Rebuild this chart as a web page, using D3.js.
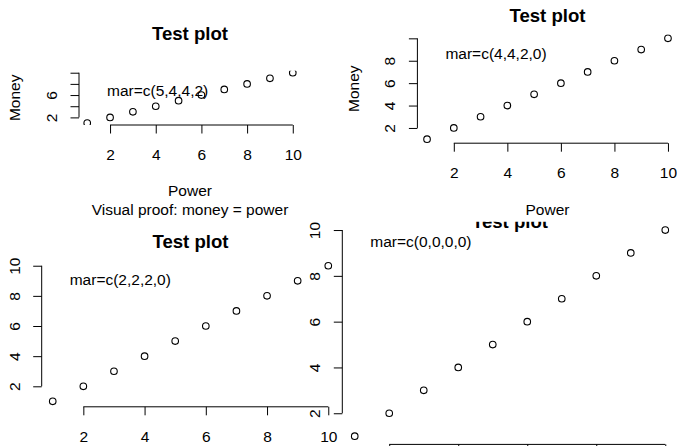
<!DOCTYPE html>
<html>
<head>
<meta charset="utf-8">
<script src="https://cdn.jsdelivr.net/npm/d3@7"></script>
<style>
  html, body { margin: 0; padding: 0; background: #fff; }
  svg { display: block; }
  text { font-family: "Liberation Sans", Arial, Helvetica, sans-serif; fill: #000; }
</style>
</head>
<body>
<svg id="chart" width="677" height="446"></svg>
<script>
// ---- data ----
const power = [1, 2, 3, 4, 5, 6, 7, 8, 9, 10];
const money = [1, 2, 3, 4, 5, 6, 7, 8, 9, 10];
const xTicks = [2, 4, 6, 8, 10];
const yTicks = [2, 4, 6, 8, 10];
const marLabels = ["mar=c(5,4,4,2)", "mar=c(4,4,2,0)", "mar=c(2,2,2,0)", "mar=c(0,0,0,0)"];
const mainTitle = "Test plot";
const xLabel = "Power";
const yLabel = "Money";
const subTitle = "Visual proof: money = power";

// ---- layout: plot box and figure box of each panel (px) ----
const W = 677, H = 446;
const panels = [
  { plot: { x0: 79,    x1: 301,   y0: 70.7,  y1: 125   }, fig: { x0: 0,     x1: 338.5, y0: 0,     y1: 223   }, titleY: 33.3,  sub: true  },
  { plot: { x0: 417.4, x1: 677.6, y0: 34.3,  y1: 143.2 }, fig: { x0: 338.5, x1: 677,   y0: 0,     y1: 223   }, titleY: 15,    sub: false },
  { plot: { x0: 41.7,  x1: 339.3, y0: 260.3, y1: 406.8 }, fig: { x0: 0,     x1: 340,   y0: 223,   y1: 446   }, titleY: 241.3, sub: false },
  { plot: { x0: 342.3, x1: 677.7, y0: 221.8, y1: 444.4 }, fig: { x0: 342.3, x1: 677.7, y0: 221.8, y1: 444.4 }, titleY: 221.8, sub: false }
];

const FS = 15.5;          // base text size
const FS_MAIN = 18.6;     // bold title size
const TICK = 8.5;         // tick length
const YLAB_OFF = 27.5;    // y tick label centre, left of axis
const XLAB_OFF = 29.5;    // x tick label centre, below axis
const TITLE_X_OFF = 66;   // x axis title
const SUB_OFF = 85;       // subtitle
const TITLE_Y_OFF = 64;   // y axis title
const R_PT = 3.3;         // open circle radius

const svg = d3.select("#chart");
const defs = svg.append("defs");

// R-style extended range (4% each side)
function extRange(vals) {
  const [lo, hi] = d3.extent(vals);
  const d = (hi - lo) * 0.04;
  return [lo - d, hi + d];
}

// width of "m" sets the minimum gap between axis labels
const probe = svg.append("text").attr("font-size", FS).text("m");
const gapM = probe.node().getComputedTextLength();
probe.remove();

// hide labels that would crowd the previous drawn one, or fall off the page
function thinLabels(axisG, scale, offPage) {
  let last = null;
  axisG.selectAll(".tick").each(function (d) {
    const t = d3.select(this).select("text");
    if (offPage(scale(d))) { t.remove(); return; }
    const w = t.node().getComputedTextLength();
    const p = scale(d);
    if (last && Math.abs(p - last.p) - (w / 2 + last.w / 2) < gapM) {
      t.remove();
    } else {
      last = { p, w };
    }
  });
}

const inside = (v, a, b) => v >= a && v <= b;

panels.forEach((pn, i) => {
  const P = pn.plot, F = pn.fig;
  const x = d3.scaleLinear().domain(extRange(power)).range([P.x0, P.x1]);
  const y = d3.scaleLinear().domain(extRange(money)).range([P.y1, P.y0]);

  defs.append("clipPath").attr("id", "plotclip" + i)
    .append("rect").attr("x", P.x0).attr("y", P.y0)
    .attr("width", P.x1 - P.x0).attr("height", P.y1 - P.y0);
  defs.append("clipPath").attr("id", "figclip" + i)
    .append("rect").attr("x", F.x0).attr("y", F.y0)
    .attr("width", F.x1 - F.x0).attr("height", F.y1 - F.y0);

  const g = svg.append("g").attr("class", "panel");

  // x axis
  const gx = g.append("g")
    .attr("transform", `translate(0,${P.y1})`)
    .call(d3.axisBottom(x).tickValues(xTicks).tickSizeInner(TICK).tickSizeOuter(0).tickFormat(d3.format("d")));
  gx.select(".domain").remove();
  gx.append("line")
    .attr("x1", x(xTicks[0])).attr("x2", x(xTicks[xTicks.length - 1]))
    .attr("stroke", "#000").attr("stroke-width", 1);
  gx.selectAll(".tick line").attr("stroke", "#000").attr("stroke-width", 1);
  gx.selectAll(".tick text")
    .attr("y", XLAB_OFF).attr("dy", "0.35em")
    .attr("font-size", FS).attr("fill", "#000");
  gx.attr("font-size", null).attr("font-family", null);
  thinLabels(gx, x, () => P.y1 + XLAB_OFF > H);

  // y axis, labels parallel to the axis
  const gy = g.append("g")
    .attr("transform", `translate(${P.x0},0)`)
    .call(d3.axisLeft(y).tickValues(yTicks).tickSizeInner(TICK).tickSizeOuter(0).tickFormat(d3.format("d")));
  gy.select(".domain").remove();
  gy.append("line")
    .attr("y1", y(yTicks[0])).attr("y2", y(yTicks[yTicks.length - 1]))
    .attr("stroke", "#000").attr("stroke-width", 1);
  gy.selectAll(".tick line").attr("stroke", "#000").attr("stroke-width", 1);
  gy.selectAll(".tick text")
    .attr("x", 0).attr("y", 0).attr("dy", "0.35em")
    .attr("text-anchor", "middle")
    .attr("transform", `translate(${-YLAB_OFF},0) rotate(-90)`)
    .attr("font-size", FS).attr("fill", "#000");
  gy.attr("font-size", null).attr("font-family", null);
  thinLabels(gy, y, () => P.x0 - YLAB_OFF < 0);

  // points
  g.append("g").attr("clip-path", `url(#plotclip${i})`)
    .selectAll("circle").data(power.map((p, k) => [p, money[k]])).join("circle")
    .attr("cx", d => x(d[0])).attr("cy", d => y(d[1]))
    .attr("r", R_PT).attr("fill", "none")
    .attr("stroke", "#000").attr("stroke-width", 1.1);

  // margin annotation inside the plot
  g.append("text")
    .attr("x", P.x0 + 28).attr("y", P.y0 + 19.5).attr("dy", "0.35em")
    .attr("font-size", FS).text(marLabels[i]);

  // titles, clipped to the figure region; skipped when they sit outside it
  const tg = g.append("g").attr("clip-path", `url(#figclip${i})`);
  const cx = (P.x0 + P.x1) / 2;
  const cy = (P.y0 + P.y1) / 2;
  tg.append("text")
    .attr("x", cx).attr("y", pn.titleY).attr("dy", "0.35em")
    .attr("text-anchor", "middle").attr("font-size", FS_MAIN).attr("font-weight", "bold")
    .text(mainTitle);
  if (inside(P.y1 + TITLE_X_OFF, F.y0, F.y1)) {
    tg.append("text")
      .attr("x", cx).attr("y", P.y1 + TITLE_X_OFF).attr("dy", "0.35em")
      .attr("text-anchor", "middle").attr("font-size", FS)
      .text(xLabel);
  }
  if (inside(P.x0 - TITLE_Y_OFF, F.x0, F.x1)) {
    tg.append("text")
      .attr("transform", `translate(${P.x0 - TITLE_Y_OFF},${cy}) rotate(-90)`)
      .attr("dy", "0.35em")
      .attr("text-anchor", "middle").attr("font-size", FS)
      .text(yLabel);
  }
  if (pn.sub && inside(P.y1 + SUB_OFF, F.y0, F.y1)) {
    tg.append("text")
      .attr("x", cx).attr("y", P.y1 + SUB_OFF).attr("dy", "0.35em")
      .attr("text-anchor", "middle").attr("font-size", FS)
      .text(subTitle);
  }
});
</script>
</body>
</html>
